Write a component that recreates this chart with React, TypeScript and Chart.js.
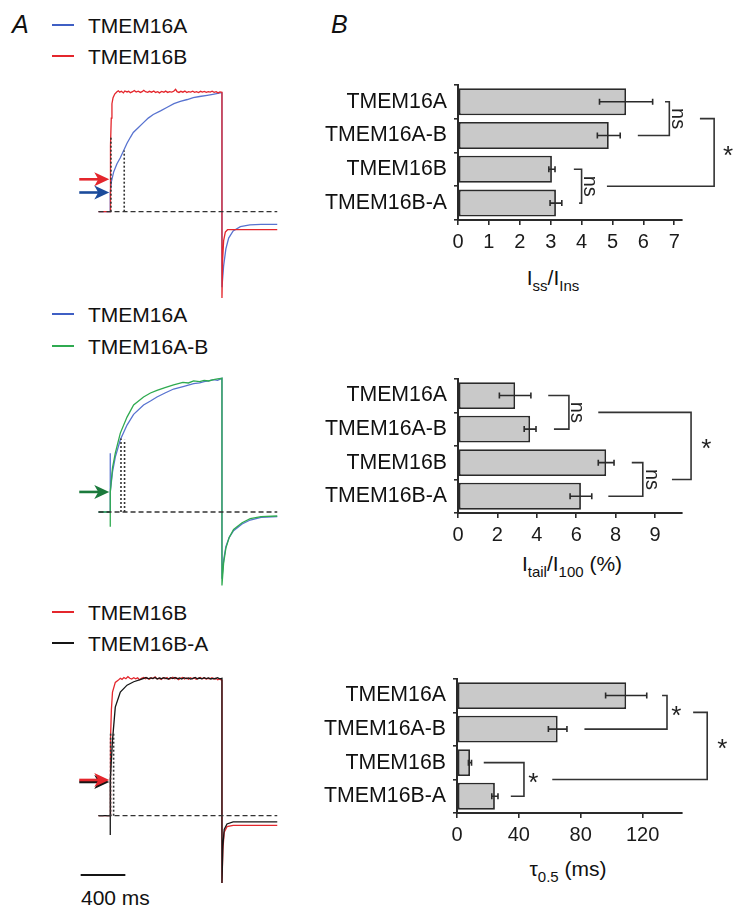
import React, { useEffect, useRef } from "react";
import Chart from "chart.js/auto";

const FONT = "'Liberation Sans', Arial, Helvetica, sans-serif";
Chart.defaults.font.family = FONT;

// ---------------- Panel B data ----------------
const CATEGORIES = ["TMEM16A", "TMEM16A-B", "TMEM16B", "TMEM16B-A"];

const ISS_INS = [5.44, 4.88, 3.04, 3.17];
const ISS_INS_ERR = [0.86, 0.37, 0.1, 0.19];
const ISS_TICKS = [0, 1, 2, 3, 4, 5, 6, 7];
const ISS_TICK_LABELS = ["0", "1", "2", "3", "4", "5", "6", "7"];

const ITAIL = [2.9, 3.66, 7.52, 6.24];
const ITAIL_ERR = [0.8, 0.3, 0.4, 0.55];
const ITAIL_TICKS = [0, 2, 4, 6, 8, 10];
const ITAIL_TICK_LABELS = ["0", "2", "4", "6", "8", "9"];

const TAU = [109.4, 65.1, 8.4, 24.5];
const TAU_ERR = [13.3, 6.0, 1.0, 2.0];
const TAU_TICKS = [0, 40, 80, 120];
const TAU_TICK_LABELS = ["0", "40", "80", "120"];

// significance brackets: [fromCategory, toCategory, spine, topArmStart, bottomArmStart, labelAt, label]
type Bracket = [number, number, number, number, number, number, string];
const ISS_BRACKETS: Bracket[] = [
  [0, 1, 6.84, 6.7, 5.82, 7.12, "ns"],
  [2, 3, 4.0, 3.75, 3.92, 4.27, "ns"],
  [0.5, 2.5, 8.29, 7.83, 4.82, 8.74, "*"],
];
const ITAIL_BRACKETS: Bracket[] = [
  [0, 1, 5.63, 4.58, 4.87, 6.03, "ns"],
  [2, 3, 9.38, 8.82, 7.63, 9.81, "ns"],
  [0.5, 2.5, 11.83, 7.12, 10.86, 12.6, "*"],
];
const TAU_BRACKETS: Bracket[] = [
  [0, 1, 135.8, 132.6, 82.4, 141.9, "*"],
  [2, 3, 43.3, 17.3, 34.8, 49.3, "*"],
  [0.5, 2.5, 161.8, 152.7, 61.6, 171.5, "*"],
];

// ---------------- Panel A data (time ms, normalized current) ----------------
type P = [number, number];
const A1_TMEM16A: P[] = [
  [-105, 0], [0, 0], [0, 0.16], [10, 0.25], [30, 0.33], [60, 0.4], [90, 0.45], [120, 0.51], [150, 0.57],
  [180, 0.62], [206, 0.66], [250, 0.7], [295, 0.74], [340, 0.78], [385, 0.81], [450, 0.84], [510, 0.87],
  [570, 0.9], [627, 0.92], [690, 0.935], [743, 0.95], [800, 0.96], [868, 0.97], [930, 0.98], [985, 0.99],
  [1000, 0.99], [1000, -0.63], [1015, -0.45], [1035, -0.31], [1060, -0.22], [1100, -0.16], [1165, -0.125],
  [1250, -0.11], [1350, -0.105], [1495, -0.105],
];
const A1_TMEM16B: P[] = [
  [-105, 0], [0, 0], [0, 0.27], [4, 0.55], [9, 0.78], [15, 0.9], [25, 0.95], [40, 0.98],
  [60, 1.0], [72, 1.008], [85, 0.996], [100, 1.004], [118, 0.99], [130, 1.006], [150, 0.998], [165, 1.003],
  [180, 0.992], [200, 1.0], [215, 1.01], [232, 0.997], [250, 1.004], [270, 0.994], [285, 1.0], [300, 1.012],
  [315, 1.0], [335, 0.995], [350, 1.003], [370, 0.996], [390, 1.006], [405, 0.994], [425, 1.0], [440, 0.99],
  [460, 1.002], [480, 0.996], [495, 1.005], [515, 0.994], [530, 1.0], [550, 0.996], [568, 1.004], [585, 1.02],
  [598, 1.0], [615, 0.994], [632, 1.003], [650, 0.996], [668, 1.005], [685, 0.993], [700, 1.0], [720, 0.997],
  [738, 1.004], [755, 0.995], [772, 1.0], [790, 0.993], [808, 1.003], [825, 0.997], [842, 1.002], [860, 0.994],
  [878, 1.0], [895, 0.996], [912, 1.004], [930, 0.995], [948, 1.0], [965, 0.99], [982, 0.998], [1000, 0.995],
  [1000, -0.72], [1006, -0.4], [1015, -0.24], [1030, -0.17], [1050, -0.15], [1495, -0.15],
];
const A1_DOTTED: P[] = [[6, 0.62], [125, 0.51]];

const A2_TMEM16A: P[] = [
  [-105, 0], [0, 0], [0, 0.44], [0, 0.15], [20, 0.3], [45, 0.41], [90, 0.54], [150, 0.65], [209, 0.73],
  [298, 0.8], [360, 0.83], [418, 0.86], [490, 0.89], [567, 0.92], [660, 0.94], [746, 0.96], [800, 0.965],
  [840, 0.975], [880, 0.98], [925, 0.99], [960, 0.985], [1000, 1.0],
  [1000, -0.5], [1015, -0.36], [1035, -0.26], [1065, -0.19], [1104, -0.14], [1180, -0.09], [1253, -0.06],
  [1350, -0.04], [1495, -0.035],
];
const A2_TMEM16AB: P[] = [
  [-105, 0], [0, 0], [0, -0.11], [0, 0.15], [20, 0.33], [45, 0.44], [90, 0.59], [150, 0.71], [209, 0.8],
  [298, 0.86], [360, 0.89], [418, 0.91], [490, 0.93], [567, 0.95], [650, 0.97], [700, 0.965], [746, 0.98],
  [800, 0.975], [840, 0.985], [880, 0.98], [925, 0.99], [960, 0.995], [1000, 1.0],
  [1000, -0.55], [1015, -0.38], [1035, -0.27], [1065, -0.19], [1104, -0.13], [1180, -0.08], [1253, -0.05],
  [1350, -0.035], [1495, -0.03],
];
const A2_DOTTED: P[] = [[96, 0.55], [128, 0.54]];

const A3_TMEM16B: P[] = [
  [-105, 0], [0, 0], [0, 0.26], [4, 0.55], [10, 0.77], [20, 0.9], [45, 0.97], [70, 0.985],
  [90, 1.0], [105, 0.992], [122, 1.006], [140, 0.997], [158, 1.012], [175, 1.0], [192, 0.994], [210, 1.004],
  [228, 0.996], [245, 1.003], [262, 0.99], [280, 1.0], [298, 1.006], [315, 0.996], [332, 1.002], [350, 0.993],
  [368, 1.004], [385, 0.998], [402, 1.01], [420, 0.996], [438, 1.0], [455, 0.992], [472, 1.004], [490, 0.997],
  [508, 1.006], [525, 0.994], [542, 1.0], [560, 1.008], [578, 0.996], [595, 1.003], [612, 0.99], [630, 1.0],
  [648, 1.006], [665, 0.995], [682, 1.002], [700, 0.994], [718, 1.004], [735, 0.997], [752, 1.003], [770, 0.993],
  [788, 1.0], [805, 1.006], [822, 0.996], [840, 1.002], [858, 0.994], [875, 1.0], [892, 0.997], [910, 1.004],
  [928, 0.995], [945, 1.0], [962, 0.99], [980, 0.996], [1000, 0.985],
  [1000, -0.49], [1008, -0.25], [1020, -0.12], [1045, -0.08], [1100, -0.07], [1495, -0.07],
];
const A3_TMEM16BA: P[] = [
  [-105, 0], [0, 0], [0, -0.14], [0, 0.26], [20, 0.55], [45, 0.79], [90, 0.9], [150, 0.95], [210, 0.975],
  [268, 0.99], [300, 1.0], [320, 1.006], [340, 0.996], [360, 1.003], [380, 0.998], [400, 1.006], [420, 0.995],
  [440, 1.002], [460, 0.997], [480, 1.005], [500, 1.0], [520, 0.994], [540, 1.004], [560, 0.998], [580, 1.006],
  [600, 0.996], [620, 1.002], [640, 0.995], [660, 1.004], [680, 0.998], [700, 1.003], [720, 0.994], [740, 1.0],
  [760, 1.006], [780, 0.997], [800, 1.002], [820, 0.996], [840, 1.004], [860, 0.998], [880, 1.003], [900, 0.995],
  [920, 1.0], [940, 0.997], [960, 1.004], [980, 0.996], [1000, 1.0],
  [1000, -0.49], [1008, -0.22], [1020, -0.1], [1045, -0.06], [1100, -0.045], [1495, -0.045],
];
const A3_DOTTED: P[] = [[3, 0.6], [30, 0.6]];

const BASELINE: P[] = [[-105, 0], [1495, 0]];
const SCALE_BAR_MS = 400;

// ---------------- colours ----------------
const BLUE_TRACE = "#5873d0";
const BLUE_LEG = "#3f5fc4";
const BLUE_ARROW = "#1b4b9b";
const RED = "#e4262c";
const GREEN = "#2faa50";
const GREEN_ARROW = "#1b7a3c";
const BLACK = "#151515";
const AXIS = "#2a2a2a";

// ---------------- plugins ----------------
type Arrow = { level: number; color: string; dy?: number };
const arrowPlugin = (arrows: Arrow[]) => ({
  id: "arrows",
  afterDatasetsDraw(chart: any) {
    const { ctx, scales } = chart;
    arrows.forEach((a) => {
      const tip = scales.x.getPixelForValue(0) - 1;
      const y = scales.y.getPixelForValue(a.level) + (a.dy || 0);
      ctx.save();
      ctx.strokeStyle = a.color;
      ctx.fillStyle = a.color;
      ctx.lineWidth = 2.6;
      ctx.beginPath();
      ctx.moveTo(tip - 30, y);
      ctx.lineTo(tip - 10, y);
      ctx.stroke();
      ctx.beginPath();
      ctx.moveTo(tip, y);
      ctx.lineTo(tip - 15, y - 7);
      ctx.lineTo(tip - 11, y);
      ctx.lineTo(tip - 15, y + 7);
      ctx.closePath();
      ctx.fill();
      ctx.restore();
    });
  },
});

const scaleBarPlugin = (ms: number, startMs: number) => ({
  id: "scalebar",
  afterDatasetsDraw(chart: any) {
    const { ctx, scales, chartArea } = chart;
    const x0 = scales.x.getPixelForValue(startMs);
    const x1 = scales.x.getPixelForValue(startMs + ms);
    const y = chartArea.bottom - 10;
    ctx.save();
    ctx.strokeStyle = BLACK;
    ctx.lineWidth = 2;
    ctx.beginPath();
    ctx.moveTo(x0, y);
    ctx.lineTo(x1, y);
    ctx.stroke();
    ctx.restore();
  },
});

const errorBarPlugin = (values: number[], errs: number[]) => ({
  id: "errorbars",
  afterDatasetsDraw(chart: any) {
    const { ctx, scales } = chart;
    const meta = chart.getDatasetMeta(0);
    ctx.save();
    ctx.strokeStyle = AXIS;
    ctx.lineWidth = 1.6;
    meta.data.forEach((el: any, i: number) => {
      const y = el.y;
      const a = scales.x.getPixelForValue(values[i] - errs[i]);
      const b = scales.x.getPixelForValue(values[i] + errs[i]);
      ctx.beginPath();
      ctx.moveTo(a, y);
      ctx.lineTo(b, y);
      ctx.moveTo(a, y - 3);
      ctx.lineTo(a, y + 3);
      ctx.moveTo(b, y - 3);
      ctx.lineTo(b, y + 3);
      ctx.stroke();
    });
    ctx.restore();
  },
});

const bracketPlugin = (brackets: Bracket[]) => ({
  id: "brackets",
  afterDatasetsDraw(chart: any) {
    const { ctx, scales } = chart;
    ctx.save();
    ctx.strokeStyle = "#333";
    ctx.fillStyle = "#222";
    ctx.lineWidth = 1.6;
    brackets.forEach(([from, to, spine, topArm, botArm, labelAt, label]) => {
      const y1 = scales.y.getPixelForValue(from);
      const y2 = scales.y.getPixelForValue(to);
      const sx = scales.x.getPixelForValue(spine);
      ctx.beginPath();
      ctx.moveTo(scales.x.getPixelForValue(topArm), y1);
      ctx.lineTo(sx, y1);
      ctx.lineTo(sx, y2);
      ctx.lineTo(scales.x.getPixelForValue(botArm), y2);
      ctx.stroke();
      const lx = scales.x.getPixelForValue(labelAt);
      const ly = (y1 + y2) / 2;
      ctx.save();
      ctx.translate(lx, ly);
      if (label === "ns") {
        ctx.rotate(Math.PI / 2);
        ctx.font = `20px ${FONT}`;
      } else {
        ctx.font = `26px ${FONT}`;
      }
      ctx.textAlign = "center";
      ctx.textBaseline = "middle";
      ctx.fillText(label, 0, label === "*" ? 4 : 0);
      ctx.restore();
    });
    ctx.restore();
  },
});

// ---------------- config builders ----------------
const A_LEFT = 60;
const A_WIDTH = 230;
const A_XMIN = -450;
const A_PX_PER_MS = 0.1117;

function line(data: P[], color: string, width = 1.3, dash: number[] = []) {
  return {
    data: data.map(([x, y]) => ({ x, y })),
    borderColor: color,
    borderWidth: width,
    borderDash: dash,
    pointRadius: 0,
    fill: false,
    tension: 0,
  };
}

function dotted(d: P[]) {
  return d.map(([t, top]) => line([[t, 0], [t, top]], "#333", 1.6, [2, 2]));
}

// Chart.js paints dataset 0 last (on top); traces listed later should sit on top,
// so they are inserted in reverse order.
function traceConfig(
  traces: { data: P[]; color: string }[],
  dots: P[],
  top: number,
  height: number,
  zeroPx: number,
  unitPx: number,
  plugins: any[]
) {
  return {
    type: "line",
    data: {
      datasets: [
        line(BASELINE, "#333", 1.3, [5, 3]),
        ...dotted(dots),
        ...traces.slice().reverse().map((t) => line(t.data, t.color)),
      ],
    },
    options: {
      animation: false,
      responsive: false,
      events: [],
      layout: { padding: 0 },
      scales: {
        x: { type: "linear", display: false, min: A_XMIN, max: A_XMIN + A_WIDTH / A_PX_PER_MS },
        y: {
          type: "linear",
          display: false,
          min: -(top + height - zeroPx) / unitPx,
          max: (zeroPx - top) / unitPx,
        },
      },
      plugins: { legend: { display: false }, tooltip: { enabled: false } },
    },
    plugins,
  };
}

const B_LEFT = 300;
const B_WIDTH = 442;

function barConfig(
  values: number[],
  errs: number[],
  ticks: number[],
  tickLabels: string[],
  max: number,
  brackets: Bracket[],
  yWidth: number
) {
  return {
    type: "bar",
    data: {
      labels: CATEGORIES,
      datasets: [
        {
          data: values,
          backgroundColor: "#c9c9c9",
          borderColor: AXIS,
          borderWidth: 1.8,
          borderSkipped: false,
          barPercentage: 0.8,
          categoryPercentage: 1,
        },
      ],
    },
    options: {
      indexAxis: "y",
      animation: false,
      responsive: false,
      events: [],
      layout: { padding: { top: 10, right: 60, left: 0, bottom: 0 } },
      scales: {
        x: {
          type: "linear",
          min: 0,
          max,
          afterBuildTicks: (axis: any) => {
            axis.ticks = ticks.map((v) => ({ value: v }));
          },
          afterFit: (axis: any) => {
            axis.height = 35;
          },
          grid: { display: true, drawOnChartArea: false, drawTicks: true, tickLength: 5, color: AXIS, lineWidth: 1.6 },
          border: { display: true, color: AXIS, width: 2 },
          ticks: {
            font: { size: 20, family: FONT },
            color: "#1a1a1a",
            padding: 5,
            maxRotation: 0,
            autoSkip: false,
            callback: (_v: any, i: number) => tickLabels[i],
          },
        },
        y: {
          afterFit: (axis: any) => {
            axis.width = yWidth;
          },
          grid: { display: true, offset: true, drawOnChartArea: false, drawTicks: true, tickLength: 4, color: AXIS, lineWidth: 1.6 },
          border: { display: true, color: AXIS, width: 2 },
          ticks: { font: { size: 21.3, family: FONT }, color: "#111", padding: 7, autoSkip: false },
        },
      },
      plugins: { legend: { display: false }, tooltip: { enabled: false } },
    },
    plugins: [errorBarPlugin(values, errs), bracketPlugin(brackets)],
  };
}

// ---------------- components ----------------
function ChartBox({ left, top, width, height, make }: any) {
  const ref = useRef<HTMLCanvasElement>(null);
  useEffect(() => {
    const chart = new Chart(ref.current as HTMLCanvasElement, make());
    return () => chart.destroy();
  }, []);
  return (
    <canvas
      ref={ref}
      width={width}
      height={height}
      style={{ position: "absolute", left, top, width, height }}
    />
  );
}

function Text({ x, y, children, size = 21, center = false, italic = false }: any) {
  return (
    <div
      style={{
        position: "absolute",
        left: x,
        top: y,
        transform: `translate(${center ? "-50%" : "0"}, -50%)`,
        fontFamily: FONT,
        fontSize: size,
        fontStyle: italic ? "italic" : "normal",
        color: "#111",
        whiteSpace: "nowrap",
        lineHeight: 1,
      }}
    >
      {children}
    </div>
  );
}

function LegendItem({ y, color, label }: any) {
  return (
    <>
      <div style={{ position: "absolute", left: 52, top: y - 1.25, width: 22, height: 2.5, background: color }} />
      <Text x={88} y={y}>{label}</Text>
    </>
  );
}

const sub = { fontSize: 15, verticalAlign: "-0.35em" } as const;

export default function App() {
  return (
    <div style={{ position: "fixed", left: 0, top: 0, width: 742, height: 905, background: "#fff", overflow: "hidden" }}>
      <Text x={12} y={24} size={25} italic>A</Text>
      <Text x={331} y={24} size={25} italic>B</Text>

      <LegendItem y={25} color={BLUE_LEG} label="TMEM16A" />
      <LegendItem y={56} color={RED} label="TMEM16B" />
      <LegendItem y={314} color={BLUE_LEG} label="TMEM16A" />
      <LegendItem y={346} color={GREEN} label="TMEM16A-B" />
      <LegendItem y={612} color={RED} label="TMEM16B" />
      <LegendItem y={643} color={BLACK} label="TMEM16B-A" />

      <ChartBox
        left={A_LEFT} top={75} width={A_WIDTH} height={230}
        make={() =>
          traceConfig(
            [{ data: A1_TMEM16A, color: BLUE_TRACE }, { data: A1_TMEM16B, color: RED }],
            A1_DOTTED, 75, 230, 211.7, 120,
            [arrowPlugin([{ level: 0.27, color: RED }, { level: 0.16, color: BLUE_ARROW }])]
          )
        }
      />
      <ChartBox
        left={A_LEFT} top={365} width={A_WIDTH} height={230}
        make={() =>
          traceConfig(
            [{ data: A2_TMEM16A, color: BLUE_TRACE }, { data: A2_TMEM16AB, color: GREEN }],
            A2_DOTTED, 365, 230, 512, 133.7,
            [arrowPlugin([{ level: 0.15, color: GREEN_ARROW }])]
          )
        }
      />
      <ChartBox
        left={A_LEFT} top={665} width={A_WIDTH} height={220}
        make={() =>
          traceConfig(
            [{ data: A3_TMEM16B, color: RED }, { data: A3_TMEM16BA, color: BLACK }],
            A3_DOTTED, 665, 220, 815.7, 137.4,
            [
              arrowPlugin([{ level: 0.26, color: BLACK, dy: 2 }, { level: 0.26, color: RED }]),
              scaleBarPlugin(SCALE_BAR_MS, -265),
            ]
          )
        }
      />
      <Text x={81} y={897}>400 ms</Text>

      <ChartBox
        left={B_LEFT} top={65} width={B_WIDTH} height={190}
        make={() => barConfig(ISS_INS, ISS_INS_ERR, ISS_TICKS, ISS_TICK_LABELS, 7.25, ISS_BRACKETS, 158)}
      />
      <Text x={553} y={280} center>
        I<span style={sub}>ss</span>/I<span style={sub}>Ins</span>
      </Text>

      <ChartBox
        left={B_LEFT} top={359} width={B_WIDTH} height={189}
        make={() => barConfig(ITAIL, ITAIL_ERR, ITAIL_TICKS, ITAIL_TICK_LABELS, 11.37, ITAIL_BRACKETS, 158)}
      />
      <Text x={572} y={566} center>
        I<span style={sub}>tail</span>/I<span style={sub}>100</span> (%)
      </Text>

      <ChartBox
        left={B_LEFT} top={659} width={B_WIDTH} height={189}
        make={() => barConfig(TAU, TAU_ERR, TAU_TICKS, TAU_TICK_LABELS, 145.5, TAU_BRACKETS, 157)}
      />
      <Text x={568} y={871} center>
        τ<span style={sub}>0.5</span> (ms)
      </Text>
    </div>
  );
}
